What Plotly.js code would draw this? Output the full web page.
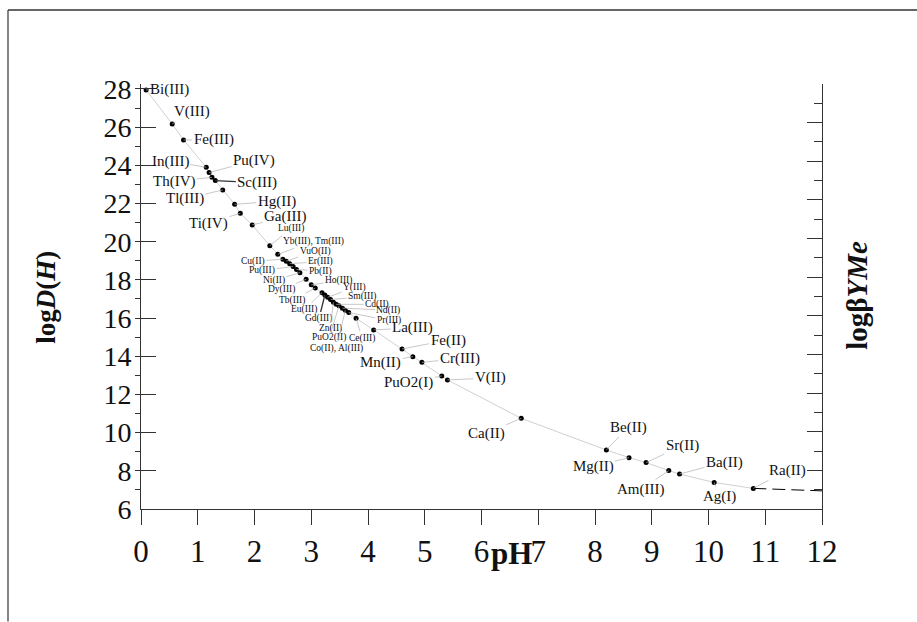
<!DOCTYPE html>
<html>
<head>
<meta charset="utf-8">
<script src="https://cdn.plot.ly/plotly-3.0.1.min.js"></script>
<style>html,body{margin:0;padding:0;background:#fff;}#chart{width:917px;height:622px;}</style>
</head>
<body>
<div id="chart"></div>
<script>
// ---- data ----
const elements = ["Bi(III)","V(III)","Fe(III)","In(III)","Pu(IV)","Th(IV)","Sc(III)","Tl(III)","Hg(II)","Ti(IV)","Ga(III)",
  "Lu(III)","Yb(III), Tm(III)","Cu(II)","VuO(II)","Er(III)","Pu(III)","Pb(II)","Ni(II)","Dy(III)","Ho(III)","Tb(III)",
  "Eu(III)","Gd(III)","Y(III)","Sm(III)","Zn(II)","Cd(II)","PuO2(II)","Nd(II)","Co(II), Al(III)","Pr(III)","Ce(III)",
  "La(III)","Fe(II)","Mn(II)","Cr(III)","PuO2(I)","V(II)","Ca(II)","Be(II)","Mg(II)","Sr(II)","Am(III)","Ba(II)","Ag(I)","Ra(II)"];
const pH = [0.09,0.55,0.75,1.15,1.20,1.25,1.31,1.44,1.65,1.75,1.96,
  2.27,2.41,2.50,2.56,2.62,2.68,2.74,2.80,2.91,3.00,3.07,
  3.19,3.24,3.29,3.34,3.39,3.44,3.49,3.55,3.60,3.66,3.79,
  4.10,4.60,4.79,4.95,5.30,5.40,6.70,8.20,8.60,8.90,9.30,9.49,10.10,10.79];
const logD = [27.95,26.17,25.33,23.90,23.62,23.37,23.20,22.71,21.96,21.49,20.88,
  19.79,19.34,19.08,18.98,18.85,18.70,18.55,18.38,18.03,17.74,17.57,
  17.33,17.21,17.09,16.97,16.83,16.72,16.64,16.52,16.41,16.29,15.99,
  15.38,14.38,13.98,13.68,12.97,12.76,10.75,9.09,8.69,8.43,8.01,7.83,7.39,7.08];
const extPH = [10.79, 12];
const extLogD = [7.08, 6.95];
const xTicks = [0,1,2,3,4,5,6,7,8,9,10,11,12];

// ---- label layout (pixel offsets of each label from its point) ----
const labelOffsets = [[23,0],[20,-12],[30,0],[-36,-6],[45,-12],[-38,4],[42,2],[-38,9],[42,-3],[-32,10],[33,-8],
  [21,-17],[36,-13],[-30,2],[29,-10],[31,-2],[-31,4],[24,2],[-26,8],[-25,10],[27,-4],[-23,12],
  [-18,17],[-6,24],[27,-10],[32,-3],[-3,26],[41,0],[-10,32],[46,2],[-9,38],[40,8],[6,20],
  [39,-2],[46,-9],[-32,6],[38,-4],[-33,7],[43,-2],[-35,15],[22,-23],[-36,9],[36,-17],[-28,19],[45,-12],[5,14],[34,-18]];
const smallLabel = elements.map((e,i)=> i>=11 && i<=32);
const darkLeader = ["Sc(III)","Gd(III)"];

const FONT = "Liberation Serif, Times New Roman, serif";

const traces = [
  {x: pH, y: logD, mode: "lines+markers", type: "scatter",
   line: {color: "#c4c4c4", width: 0.8},
   marker: {color: "#000", size: 5},
   hoverinfo: "skip", showlegend: false},
  {x: extPH, y: extLogD, mode: "lines", type: "scatter",
   line: {color: "#000", width: 1, dash: "13px,6px"}, hoverinfo: "skip", showlegend: false},
  {x: [null], y: [null], yaxis: "y2", mode: "markers", hoverinfo: "skip", showlegend: false}
];

const annotations = elements.map((name, i) => {
  const dark = darkLeader.includes(name);
  return {
    x: pH[i], y: logD[i], xref: "x", yref: "y",
    text: name, showarrow: true, arrowhead: 0, standoff: 0,
    arrowwidth: dark ? 1.3 : 0.7, arrowcolor: dark ? "#333" : "#b0b0b0",
    ax: labelOffsets[i][0], ay: labelOffsets[i][1],
    font: {family: FONT, size: smallLabel[i] ? 9.5 : 15, color: "#111"}
  };
});

const plotL = 141, plotR = 822, plotT = 84, plotB = 509.3;
const W = plotR - plotL, H = plotB - plotT;
function px(xp){ return (xp - plotL) / W; }
function py(yp){ return (plotB - yp) / H; }

annotations.push({
  xref: "paper", yref: "paper", x: px(511), y: py(554), xanchor: "center", yanchor: "middle",
  text: "<b>pH</b>", showarrow: false, font: {family: FONT, size: 31, color: "#111"}
});
annotations.push({
  xref: "paper", yref: "paper", x: px(46), y: py(298), xanchor: "center", yanchor: "middle",
  text: "<b>log<i>D</i>(<i>H</i>)</b>", textangle: -90, showarrow: false, font: {family: FONT, size: 27, color: "#111"}
});
annotations.push({
  xref: "paper", yref: "paper", x: px(857), y: py(296), xanchor: "center", yanchor: "middle",
  text: "<b>logβ<i>YMe</i></b>", textangle: -90, showarrow: false, font: {family: FONT, size: 29, color: "#111"}
});

const layout = {
  width: 917, height: 622,
  margin: {l: plotL, r: 917 - plotR, t: plotT, b: 622 - plotB, pad: 0},
  paper_bgcolor: "#fff", plot_bgcolor: "#fff",
  showlegend: false,
  font: {family: FONT, color: "#111"},
  xaxis: {
    range: [0, 12], tickvals: xTicks, ticktext: xTicks.map(String),
    ticks: "outside", ticklen: 15, tickwidth: 1, tickcolor: "#333",
    showline: true, linecolor: "#333", linewidth: 1, showgrid: false, zeroline: false,
    tickfont: {family: FONT, size: 31, color: "#111"}
  },
  yaxis: {
    range: [6, 28.26], tick0: 6, dtick: 2,
    ticks: "inside", ticklen: 15, tickwidth: 1, tickcolor: "#333",
    minor: {dtick: 1, ticks: "outside", ticklen: 5, tickcolor: "#333", tickwidth: 1},
    showline: true, linecolor: "#333", linewidth: 1, showgrid: false, zeroline: false,
    tickfont: {family: FONT, size: 28, color: "#111"}, ticklabelstandoff: 3
  },
  yaxis2: {
    overlaying: "y", side: "right", range: [6, 28], tick0: 6, dtick: 2,
    ticks: "inside", ticklen: 15, tickwidth: 1, tickcolor: "#333",
    minor: {dtick: 1, ticks: "inside", ticklen: 8, tickcolor: "#333", tickwidth: 1},
    showline: true, linecolor: "#333", linewidth: 1, showgrid: false, zeroline: false,
    showticklabels: false
  },
  shapes: [
    {type: "line", xref: "paper", yref: "paper", x0: px(8), x1: px(917), y0: py(10), y1: py(10),
     line: {color: "#666", width: 2}},
    {type: "line", xref: "paper", yref: "paper", x0: px(8), x1: px(8), y0: py(10), y1: py(622),
     line: {color: "#444", width: 1.3}}
  ],
  annotations: annotations
};

Plotly.newPlot("chart", traces, layout, {displayModeBar: false, staticPlot: true});
</script>
</body>
</html>
